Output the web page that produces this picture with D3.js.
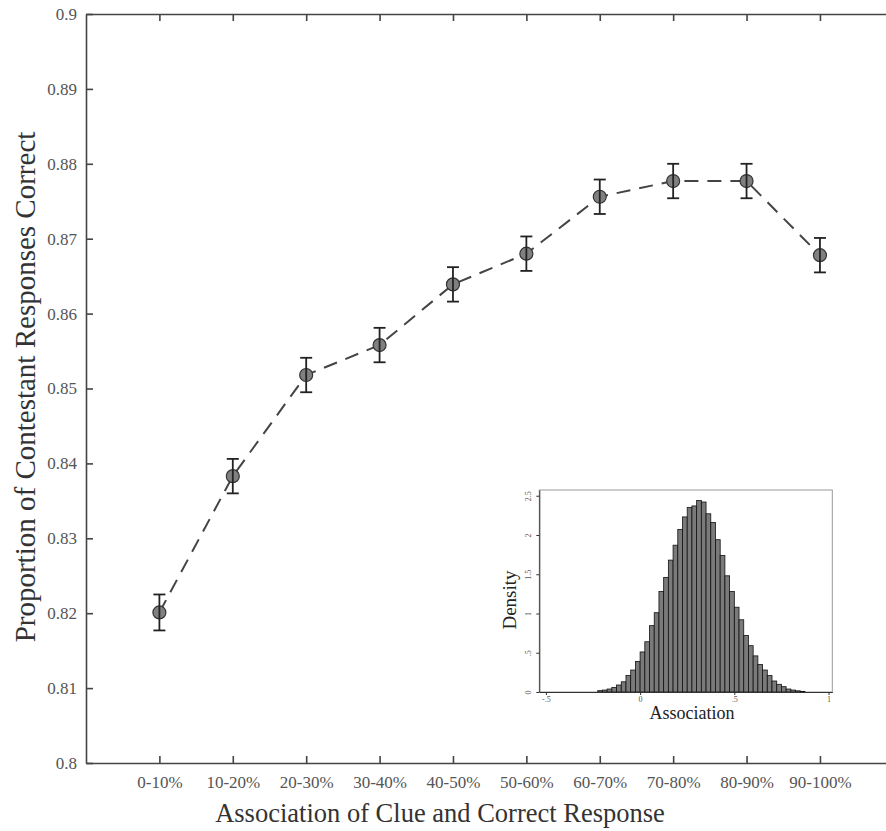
<!DOCTYPE html>
<html>
<head>
<meta charset="utf-8">
<script src="https://cdn.jsdelivr.net/npm/d3@7"></script>
<style>
  html, body { margin: 0; padding: 0; background: #fff; }
  #my_dataviz { width: 886px; height: 831px; }
  svg text { font-family: 'Liberation Serif', 'DejaVu Serif', serif !important; }
</style>
</head>
<body>
<div id="my_dataviz"></div>
<script>
// main chart data
const categories = ["0-10%", "10-20%", "20-30%", "30-40%", "40-50%", "50-60%", "60-70%", "70-80%", "80-90%", "90-100%"]
const proportions = [0.8201, 0.8383, 0.8518, 0.8558, 0.8639, 0.8680, 0.8756, 0.8777, 0.8777, 0.8678]
const errors = [0.0024, 0.0023, 0.0023, 0.0023, 0.0023, 0.0023, 0.0023, 0.0023, 0.0023, 0.0023]
const yTicks = [0.8, 0.81, 0.82, 0.83, 0.84, 0.85, 0.86, 0.87, 0.88, 0.89, 0.9]

// inset histogram data (bin start, bin width .025)
const binStarts = [-0.225, -0.2, -0.175, -0.15, -0.125, -0.1, -0.075, -0.05, -0.025,
  0, 0.025, 0.05, 0.075, 0.1, 0.125, 0.15, 0.175, 0.2, 0.225, 0.25, 0.275, 0.3, 0.325,
  0.35, 0.375, 0.4, 0.425, 0.45, 0.475, 0.5, 0.525, 0.55, 0.575, 0.6, 0.625, 0.65,
  0.675, 0.7, 0.725, 0.75, 0.775, 0.8, 0.825, 0.85]
const densities = [0.017, 0.025, 0.038, 0.059, 0.089, 0.13, 0.21, 0.28, 0.39,
  0.51, 0.64, 0.845, 1.01, 1.28, 1.46, 1.68, 1.87, 2.07, 2.23, 2.35, 2.37, 2.44, 2.42,
  2.27, 2.16, 1.94, 1.74, 1.48, 1.28, 1.08, 0.92, 0.72, 0.59, 0.46, 0.35, 0.28,
  0.21, 0.14, 0.098, 0.068, 0.038, 0.025, 0.015, 0.008]
const binWidth = 0.025
const insetXTicks = [-0.5, 0, 0.5, 1]
const insetYTicks = [0, 0.5, 1, 1.5, 2, 2.5]

const W = 886, H = 831
const serif = "'Liberation Serif', 'DejaVu Serif', serif"
const svg = d3.select("#my_dataviz")
  .append("svg")
  .attr("width", W)
  .attr("height", H)
  .attr("font-family", serif)

const axisColor = "#444"
const labelColor = "#555"

// scales
const x = d3.scaleLinear().domain([0, 10.9]).range([86, 886])
const y = d3.scaleLinear().domain([0.8, 0.9]).range([763, 14])

const fmtY = d => String(+d.toFixed(2))

// left axis
const gy = svg.append("g")
  .attr("transform", "translate(86,0)")
  .call(d3.axisLeft(y).tickValues(yTicks).tickFormat(fmtY).tickSize(-7).tickSizeOuter(0).tickPadding(9))
  .attr("font-family", serif)
gy.selectAll("text").attr("font-size", 17).attr("fill", labelColor)

// bottom axis
const gx = svg.append("g")
  .attr("transform", "translate(0,763)")
  .call(d3.axisBottom(x).tickValues(d3.range(1, 11)).tickFormat(i => categories[i - 1]).tickSize(-7).tickSizeOuter(0).tickPadding(13))
  .attr("font-family", serif)
gx.selectAll("text").attr("font-size", 17).attr("fill", labelColor)

// top axis (no labels)
svg.append("g")
  .attr("transform", "translate(0,14)")
  .call(d3.axisTop(x).tickValues(d3.range(1, 11)).tickFormat("").tickSize(-7).tickSizeOuter(0))

svg.selectAll(".domain, .tick line")
  .attr("stroke", axisColor)
  .attr("stroke-width", 1.6)

// titles
svg.append("text")
  .attr("x", 440)
  .attr("y", 822)
  .attr("text-anchor", "middle")
  .attr("font-size", 26.5)
  .attr("fill", "#333")
  .text("Association of Clue and Correct Response")

svg.append("text")
  .attr("transform", "translate(35,387)rotate(-90)")
  .attr("text-anchor", "middle")
  .attr("font-size", 29)
  .attr("fill", "#333")
  .text("Proportion of Contestant Responses Correct")

// dashed line
const line = d3.line()
  .x((d, i) => x(i + 1))
  .y(d => y(d))
svg.append("path")
  .datum(proportions)
  .attr("d", line)
  .attr("fill", "none")
  .attr("stroke", "#444")
  .attr("stroke-width", 2)
  .attr("stroke-dasharray", "14,9")

// markers
svg.selectAll("circle.pt")
  .data(proportions)
  .join("circle")
  .attr("class", "pt")
  .attr("cx", (d, i) => x(i + 1))
  .attr("cy", d => y(d))
  .attr("r", 6.5)
  .attr("fill", "#808080")
  .attr("stroke", "#333")
  .attr("stroke-width", 1.2)

// error bars
const eb = svg.selectAll("g.eb")
  .data(proportions)
  .join("g")
  .attr("class", "eb")
  .attr("stroke", "#222")
  .attr("stroke-width", 1.8)
eb.append("line")
  .attr("x1", (d, i) => x(i + 1)).attr("x2", (d, i) => x(i + 1))
  .attr("y1", (d, i) => y(d + errors[i])).attr("y2", (d, i) => y(d - errors[i]))
eb.append("line")
  .attr("x1", (d, i) => x(i + 1) - 6).attr("x2", (d, i) => x(i + 1) + 6)
  .attr("y1", (d, i) => y(d + errors[i])).attr("y2", (d, i) => y(d + errors[i]))
eb.append("line")
  .attr("x1", (d, i) => x(i + 1) - 6).attr("x2", (d, i) => x(i + 1) + 6)
  .attr("y1", (d, i) => y(d - errors[i])).attr("y2", (d, i) => y(d - errors[i]))

// ---- inset histogram ----
const ix = d3.scaleLinear().domain([-0.535, 1.02]).range([539.3, 832.3])
const iy = d3.scaleLinear().domain([0, 2.573]).range([692, 490])

const inset = svg.append("g")

inset.append("rect")
  .attr("x", ix.range()[0])
  .attr("y", iy.range()[1])
  .attr("width", ix.range()[1] - ix.range()[0])
  .attr("height", iy.range()[0] - iy.range()[1])
  .attr("fill", "#fff")
  .attr("stroke", "#999")
  .attr("stroke-width", 1)

inset.selectAll("rect.bar")
  .data(densities)
  .join("rect")
  .attr("class", "bar")
  .attr("x", (d, i) => ix(binStarts[i]))
  .attr("width", (d, i) => ix(binStarts[i] + binWidth) - ix(binStarts[i]))
  .attr("y", d => iy(d))
  .attr("height", d => iy(0) - iy(d))
  .attr("fill", "#7a7a7a")
  .attr("stroke", "#111")
  .attr("stroke-width", 0.8)

const fmtI = d => d === 0 ? "0" : String(d).replace("0.", ".")

const igx = inset.append("g")
  .attr("transform", `translate(0,${iy(0)})`)
  .call(d3.axisBottom(ix).tickValues(insetXTicks).tickFormat(fmtI).tickSize(3).tickSizeOuter(0).tickPadding(1))
  .attr("font-family", serif)
igx.selectAll("text").attr("font-size", 8).attr("fill", labelColor)

const igy = inset.append("g")
  .attr("transform", `translate(${ix.range()[0]},0)`)
  .call(d3.axisLeft(iy).tickValues(insetYTicks).tickFormat(fmtI).tickSize(3).tickSizeOuter(0).tickPadding(3))
  .attr("font-family", serif)
igy.selectAll("text")
  .attr("font-size", 8).attr("fill", labelColor)
  .attr("text-anchor", "middle")
  .attr("x", null).attr("dy", null)
  .attr("transform", "translate(-8,0)rotate(-90)")

inset.selectAll(".domain, .tick line")
  .attr("stroke", "#333")
  .attr("stroke-width", 1)

inset.append("text")
  .attr("transform", "translate(516,600)rotate(-90)")
  .attr("text-anchor", "middle")
  .attr("font-size", 19)
  .attr("fill", "#222")
  .text("Density")

inset.append("text")
  .attr("x", 692)
  .attr("y", 719)
  .attr("text-anchor", "middle")
  .attr("font-size", 18)
  .attr("fill", "#222")
  .text("Association")
</script>
</body>
</html>
